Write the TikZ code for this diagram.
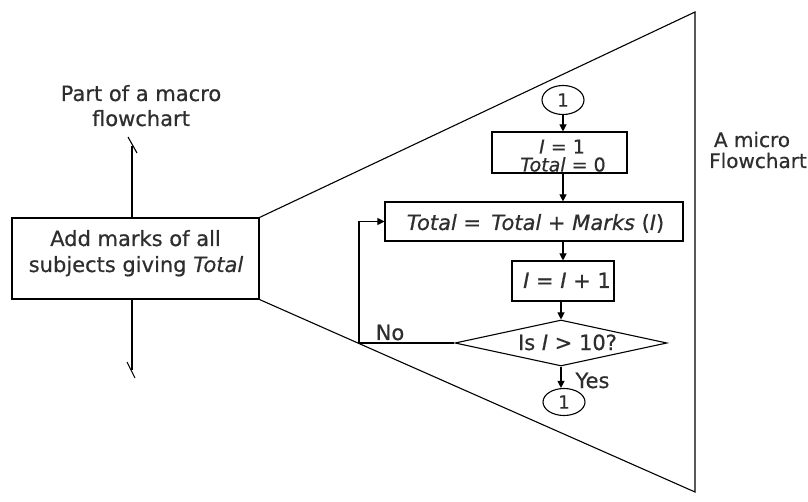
\documentclass[tikz,border=0pt]{standalone}
\usepackage{fontspec}
\setmainfont[FakeBold=0.6,ItalicFeatures={FakeBold=0.6}]{DejaVu Sans}
\usetikzlibrary{arrows.meta,shapes.geometric}
\begin{document}
\begin{tikzpicture}[x=1pt,y=-1pt,line width=1.1pt,
  txt/.style={text=black!82,font=\fontsize{21}{26}\selectfont,inner sep=0pt},
  smalltxt/.style={text=black!82,font=\fontsize{20}{24}\selectfont,inner sep=0pt},
  boxtxt/.style={text=black!82,font=\fontsize{19}{22}\selectfont,inner sep=0pt},
  box/.style={draw,rectangle,inner sep=0pt},
  conn/.style={draw,ellipse,inner sep=0pt,text=black!82,font=\fontsize{18}{20}\selectfont},
  arr/.style={-{Triangle[length=7pt,width=7pt]}}]
\useasboundingbox (0,0) rectangle (808,502);

% macro box
\node[box,minimum width=247pt,minimum height=81pt] (macro) at (135.5,258.5) {};
\node[txt,anchor=base] (m1) at (135.5,246) {Add marks of all};
\node[txt,anchor=base] (m2) at (136,272) {subjects giving \textit{Total}};

\node[txt,anchor=base] (p1) at (141,101) {Part of a macro};
\node[txt,anchor=base] (p2) at (141,126) {flowchart};

% breaks
\coordinate (topend) at (132,146);
\coordinate (botend) at (132,370);
\draw (macro.north -| topend) -- (topend);
\draw (128,137) -- (137,153);
\draw (macro.south -| botend) -- (botend);
\draw (127,362) -- (135,378);

% expansion triangle
\coordinate (tr) at (695,12);
\coordinate (br) at (695,492);
\draw (macro.north east) -- (tr) -- (br) -- (macro.south east);

\node[smalltxt,anchor=base] (a1) at (752,147) {A micro};
\node[smalltxt,anchor=base] (a2) at (758,168) {Flowchart};

% micro flowchart
\node[conn,minimum width=42pt,minimum height=29pt] (c1) at (563,100) {1};
\node[box,minimum width=135pt,minimum height=41pt] (b1) at (559.5,152.5) {};
\node[boxtxt,anchor=base] (b1a) at (562,153.5) {\textit{I} = 1};
\node[boxtxt,anchor=base] (b1b) at (563,171.5) {\textit{Total} = 0};

\node[box,minimum width=298pt,minimum height=39pt] (b2) at (534,221.5) {};
\node[txt,anchor=base] (b2t) at (535.5,230) {\textit{Total} =\, \textit{Total} + \textit{Marks} (\textit{I})};

\node[box,minimum width=102pt,minimum height=40pt] (b3) at (563,281) {};
\node[txt,anchor=base] (b3t) at (567,288) {\textit{I} = \textit{I} + 1};

\node[draw,diamond,inner sep=0pt,minimum width=212pt,minimum height=46pt] (d) at (561,343) {};
\node[txt,anchor=base] (dt) at (567.5,350) {Is \textit{I} > 10?};

\node[conn,minimum width=42pt,minimum height=27pt] (c2) at (564,402) {1};

\node[txt,anchor=base] (no) at (390,340) {No};
\node[txt,anchor=base west] (yes) at (575,388) {Yes};

\draw[arr] (c1.south) -- (c1.south |- b1.north);
\draw[arr] (c1.south |- b1.south) -- (c1.south |- b2.north);
\draw[arr] (b3.north |- b2.south) -- (b3.north);
\draw[arr] (b3.south) -- (b3.south -| d.north) -- (d.north);
\draw[arr] (d.south) -- (d.south |- c2.north);
\coordinate (loop) at (359,343);
\draw[arr] (d.west) -- (loop) |- (b2.west);
\end{tikzpicture}
\end{document}
